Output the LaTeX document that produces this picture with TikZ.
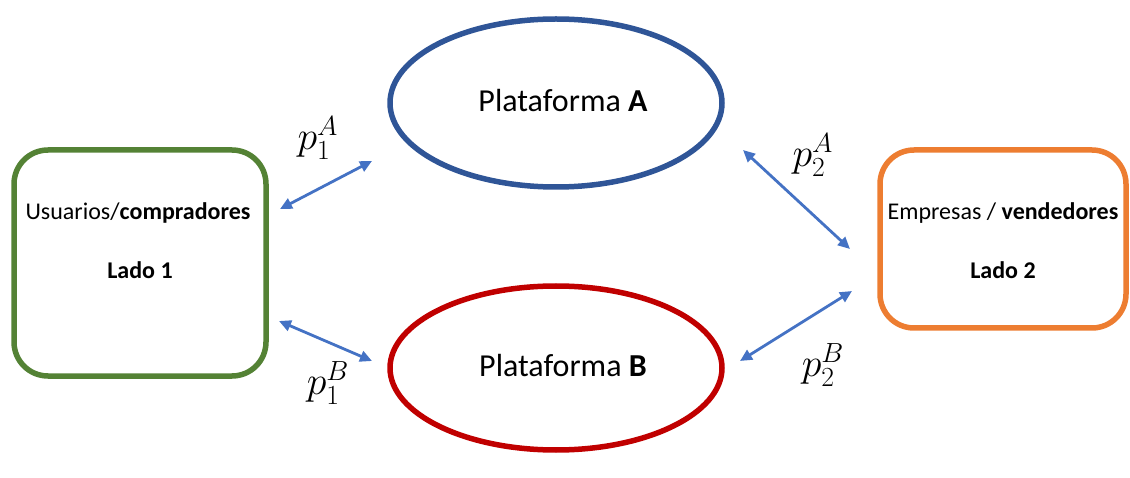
\documentclass[tikz,border=0pt]{standalone}
\usepackage{fontspec}
\setmainfont{Carlito}
\usetikzlibrary{arrows.meta,shapes.geometric}
\definecolor{cgreen}{HTML}{548235}
\definecolor{corange}{HTML}{ED7D31}
\definecolor{cblue}{HTML}{2F5597}
\definecolor{cred}{HTML}{C00000}
\definecolor{carrow}{HTML}{4472C4}
\newcommand{\pricelab}[1]{\scalebox{1.6}{\fontsize{24}{28}\selectfont$#1$}}
\tikzset{
  side/.style={draw=#1, line width=5.5pt, rounded corners=34pt, inner sep=0pt},
  plat/.style={draw=#1, line width=5.5pt, ellipse, inner sep=0pt},
  link/.style={draw=carrow, line width=2.8pt, {Triangle[length=12pt,width=11pt]}-{Triangle[length=12pt,width=11pt]}},
  price/.style={inner sep=0pt},
  sidetext/.style={font=\fontsize{24}{28}\selectfont},
  plattext/.style={font=\fontsize{32}{38}\selectfont},
}
\begin{document}
\begin{tikzpicture}[x=1pt,y=-1pt]
\useasboundingbox (0,0) rectangle (1130,478);
% side boxes
\node[side=cgreen, minimum width=252pt, minimum height=226pt] (l1) at (140,263) {};
\node[side=corange, minimum width=246pt, minimum height=178pt] (l2) at (1003,239) {};
\node[sidetext] (t1) at (138,213) {Usuarios/\textbf{compradores}};
\node[sidetext, font=\fontsize{24}{28}\selectfont\bfseries] (t1b) at (140,270) {Lado 1};
\node[sidetext] (t2) at (1003,213) {Empresas / \textbf{vendedores}};
\node[sidetext, font=\fontsize{24}{28}\selectfont\bfseries] (t2b) at (1003,270) {Lado 2};
% platforms
\node[plat=cblue, minimum width=332pt, minimum height=168pt] (pa) at (556,103) {};
\node[plat=cred, minimum width=332pt, minimum height=164pt] (pb) at (556,368) {};
\node[plattext] (tpa) at (563,101) {Plataforma \textbf{A}};
\node[plattext] (tpb) at (563,366) {Plataforma \textbf{B}};
% arrow endpoints
\coordinate (a1s) at (280,209);
\coordinate (a1e) at (372,161);
\coordinate (b1s) at (279,321);
\coordinate (b1e) at (372,361);
\coordinate (a2s) at (743,150);
\coordinate (a2e) at (850,249);
\coordinate (b2s) at (852,291);
\coordinate (b2e) at (740,361);
\draw[link] (a1s) -- (a1e);
\draw[link] (b1s) -- (b1e);
\draw[link] (a2s) -- (a2e);
\draw[link] (b2s) -- (b2e);
% prices
\node[price] (p1a) at (318,138) {\pricelab{p_1^A}};
\node[price] (p2a) at (813,155) {\pricelab{p_2^A}};
\node[price] (p1b) at (328,383) {\pricelab{p_1^B}};
\node[price] (p2b) at (823,365) {\pricelab{p_2^B}};
\end{tikzpicture}
\end{document}
